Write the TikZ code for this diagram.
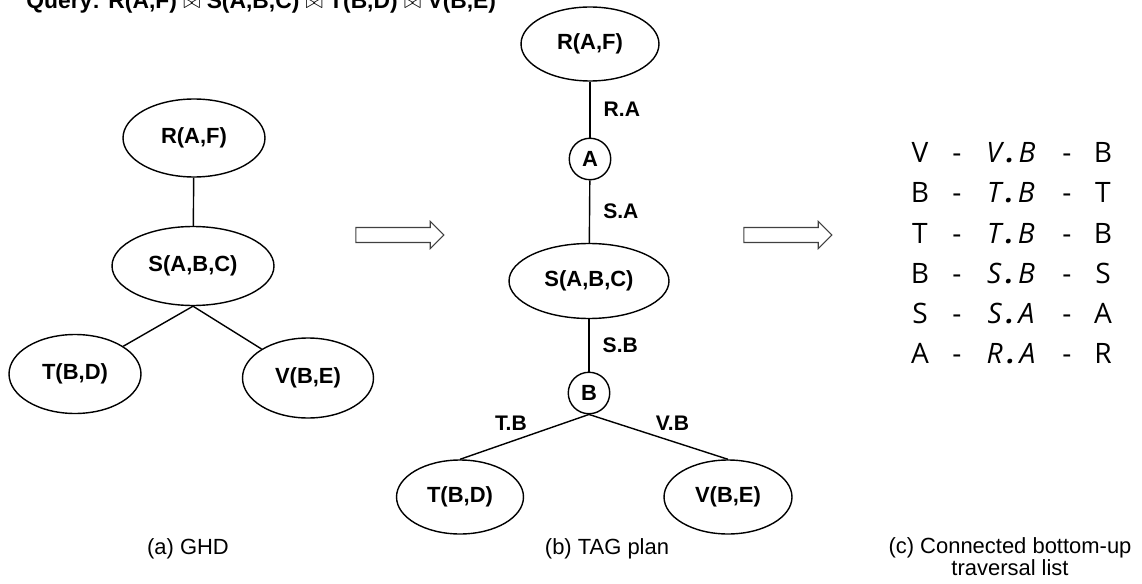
\documentclass[tikz,border=0pt]{standalone}
\usepackage{fontspec}
\setmainfont{Liberation Sans}
\newfontfamily\listfont{Open Sans}
\usetikzlibrary{positioning, shapes.geometric, shapes.arrows}

\begin{document}
\begin{tikzpicture}[x=0.02cm, y=-0.02cm,
    rel/.style={draw, ellipse, line width=0.8pt, inner sep=0pt, font=\fontsize{12.5}{15}\selectfont\bfseries},
    attr/.style={draw, circle, line width=0.8pt, inner sep=0pt, minimum size=0.83cm, font=\fontsize{12.5}{15}\selectfont\bfseries},
    link/.style={line width=0.8pt},
    lbl/.style={font=\fontsize{12}{14}\selectfont\bfseries, inner sep=2pt},
    caption/.style={font=\fontsize{12.5}{12.5}\selectfont, align=center},
    item/.style={anchor=base, inner sep=0pt, font=\listfont\fontsize{16}{19}\selectfont},
    fatarrow/.style={draw=black!75, single arrow, line width=0.6pt, inner xsep=0pt, inner ysep=0.14cm,
                     single arrow head extend=0.12cm, minimum height=1.76cm}]
    \useasboundingbox (0,0) rectangle (1142,584);

    % query on top
    \node[anchor=base west, inner sep=0pt, font=\fontsize{13}{15}\selectfont\bfseries] (query) at (26,9)
        {Query: R(A,F) $\bowtie$ S(A,B,C) $\bowtie$ T(B,D) $\bowtie$ V(B,E)};

    % (a) GHD
    \node[rel,minimum width=2.84cm,minimum height=1.56cm] (gr) at (194,138) {R(A,F)};
    \node[rel,minimum width=3.24cm,minimum height=1.58cm] (gs) at (193,266) {S(A,B,C)};
    \node[rel,minimum width=2.64cm,minimum height=1.58cm] (gt) at (75,374) {T(B,D)};
    \node[rel,minimum width=2.62cm,minimum height=1.60cm] (gv) at (308,378) {V(B,E)};
    \draw[link] (gr) -- (gs);
    \draw[link] (gs.south) -- (gt);
    \draw[link] (gs.south) -- (gv);
    \node[caption] (capa) at (188,549) {(a) GHD};

    % arrows between the parts
    \node[fatarrow] (arr1) at (396,235) {};
    \node[fatarrow] (arr2) at (784,235) {};

    % (b) TAG plan
    \node[rel,minimum width=2.76cm,minimum height=1.48cm] (tr) at (590,44) {R(A,F)};
    \node[attr] (ta) at (590,159) {A};
    \node[rel,minimum width=3.20cm,minimum height=1.50cm] (ts) at (589,281) {S(A,B,C)};
    \node[attr] (tb) at (589,393) {B};
    \node[rel,minimum width=2.54cm,minimum height=1.48cm] (tt) at (460,497) {T(B,D)};
    \node[rel,minimum width=2.56cm,minimum height=1.48cm] (tv) at (728,497) {V(B,E)};
    \draw[link] (tr) -- node[lbl,midway,right=0.19cm] {R.A} (ta);
    \draw[link] (ta) -- node[lbl,midway,right=0.19cm] {S.A} (ts);
    \draw[link] (ts) -- node[lbl,midway,right=0.19cm] {S.B} (tb);
    \draw[link] (tb.south) -- node[lbl,pos=0.45,above left=0pt] {T.B} (tt.north);
    \draw[link] (tb.south) -- node[lbl,pos=0.45,above right=0pt] {V.B} (tv.north);
    \node[caption] (capb) at (607,549) {(b) TAG plan};

    % (c) traversal list
    \foreach \i/\ta/\ka/\kb/\tc in {0/V/V/B/B, 1/B/T/B/T, 2/T/T/B/B, 3/B/S/B/S, 4/S/S/A/A, 5/A/R/A/R} {
        \node[item] (first\i) at (920,163+40*\i) {\ta};
        \node[item] (dashl\i) at (957,163+40*\i) {-};
        \node[item] (key\i) at (1011,163+40*\i) {\itshape\ka\hspace{2.5pt}{\bfseries.}\hspace{2.5pt}\kb};
        \node[item] (dashr\i) at (1067,163+40*\i) {-};
        \node[item] (last\i) at (1103,163+40*\i) {\tc};
    }
    \node[caption] (capc) at (1010,557) {(c) Connected bottom-up\\traversal list};
\end{tikzpicture}
\end{document}
